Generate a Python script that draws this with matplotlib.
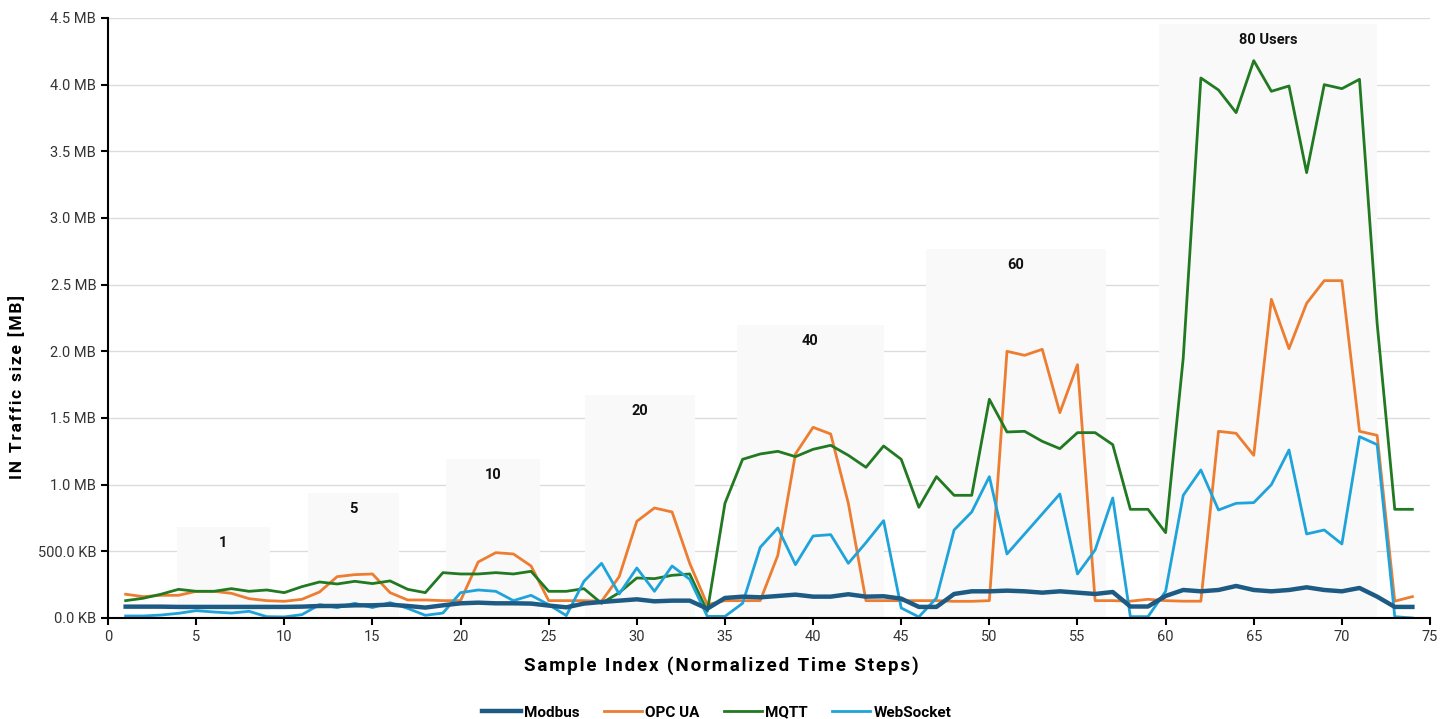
import matplotlib
matplotlib.use("Agg")
import matplotlib.pyplot as plt
from matplotlib.ticker import FuncFormatter, MultipleLocator

plt.rcParams['font.family'] = ['Roboto', 'DejaVu Sans']

sample_idx = list(range(1, 75))

modbus = [0.085, 0.085, 0.085, 0.083, 0.083, 0.083, 0.083, 0.083, 0.083, 0.083,
          0.085, 0.09, 0.09, 0.095, 0.095, 0.1, 0.09, 0.078, 0.095, 0.11,
          0.115, 0.11, 0.11, 0.108, 0.093, 0.08, 0.108, 0.12, 0.13, 0.14,
          0.125, 0.13, 0.13, 0.07, 0.15, 0.16, 0.155, 0.165, 0.175, 0.16,
          0.16, 0.178, 0.16, 0.163, 0.145, 0.083, 0.083, 0.18, 0.2, 0.2,
          0.205, 0.2, 0.19, 0.2, 0.19, 0.18, 0.195, 0.086, 0.086, 0.165,
          0.21, 0.2, 0.21, 0.24, 0.21, 0.2, 0.21, 0.23, 0.21, 0.2,
          0.225, 0.16, 0.083, 0.083]

opc_ua = [0.178, 0.16, 0.17, 0.17, 0.2, 0.2, 0.185, 0.145, 0.13, 0.125,
          0.14, 0.195, 0.31, 0.325, 0.33, 0.19, 0.135, 0.135, 0.13, 0.13,
          0.42, 0.49, 0.48, 0.39, 0.13, 0.13, 0.13, 0.125, 0.31, 0.725,
          0.825, 0.795, 0.41, 0.1, 0.13, 0.13, 0.13, 0.47, 1.23, 1.43,
          1.38, 0.86, 0.13, 0.13, 0.13, 0.13, 0.13, 0.125, 0.125, 0.13,
          2.0, 1.97, 2.015, 1.54, 1.9, 0.13, 0.13, 0.126, 0.14, 0.13,
          0.126, 0.126, 1.4, 1.385, 1.22, 2.39, 2.02, 2.36, 2.53, 2.53,
          1.4, 1.37, 0.126, 0.16]

mqtt = [0.13, 0.148, 0.178, 0.215, 0.2, 0.2, 0.22, 0.2, 0.21, 0.19,
        0.235, 0.27, 0.255, 0.275, 0.258, 0.278, 0.215, 0.19, 0.34, 0.33,
        0.33, 0.34, 0.33, 0.35, 0.2, 0.2, 0.22, 0.11, 0.19, 0.3,
        0.295, 0.32, 0.33, 0.05, 0.86, 1.19, 1.23, 1.25, 1.21, 1.265,
        1.295, 1.22, 1.13, 1.29, 1.19, 0.83, 1.06, 0.92, 0.92, 1.64,
        1.395, 1.4, 1.325, 1.27, 1.39, 1.39, 1.3, 0.815, 0.815, 0.64,
        1.95, 4.05, 3.96, 3.79, 4.18, 3.95, 3.99, 3.34, 4.0, 3.97,
        4.04, 2.21, 0.815, 0.815]

websocket = [0.015, 0.015, 0.022, 0.035, 0.055, 0.045, 0.037, 0.05, 0.01, 0.008,
             0.025, 0.1, 0.078, 0.11, 0.078, 0.115, 0.072, 0.02, 0.037, 0.19,
             0.21, 0.2, 0.13, 0.17, 0.1, 0.018, 0.275, 0.41, 0.18, 0.375,
             0.2, 0.39, 0.29, 0.012, 0.012, 0.11, 0.53, 0.675, 0.4, 0.615,
             0.625, 0.41, 0.565, 0.73, 0.075, 0.008, 0.15, 0.66, 0.795, 1.06,
             0.48, 0.63, 0.78, 0.93, 0.33, 0.51, 0.9, 0.01, 0.01, 0.2,
             0.92, 1.11, 0.81, 0.86, 0.865, 1.0, 1.26, 0.63, 0.66, 0.555,
             1.36, 1.3, 0.01, 0.0]

# user-count phases shown as shaded blocks
band_labels = ["1", "5", "10", "20", "40", "60", "80 Users"]
band_start = [3.9, 11.35, 19.15, 27.05, 35.7, 46.4, 59.6]
band_end = [9.2, 16.5, 24.5, 33.3, 44.0, 56.6, 72.0]
band_top = [0.68, 0.935, 1.195, 1.675, 2.2, 2.765, 4.455]

fig = plt.figure(figsize=(14.54, 7.19), dpi=100)
ax = fig.add_axes([0.0743, 0.1405, 0.9092, 0.8345])

widths = [e - s for s, e in zip(band_start, band_end)]
ax.bar(band_start, band_top, width=widths, align='edge', color='#f9f9f9', zorder=1)
for s, e, t, lab in zip(band_start, band_end, band_top, band_labels):
    ax.text((s + e) / 2, t - 0.12, lab, ha='center', va='center',
            fontsize=10.5, fontweight='bold', color='#111111', zorder=2)

ax.plot(sample_idx, modbus, color='#1d5b84', lw=3.2, label='Modbus', zorder=4)
ax.plot(sample_idx, opc_ua, color='#ed7d31', lw=2.0, label='OPC UA', zorder=3)
ax.plot(sample_idx, mqtt, color='#217a21', lw=2.0, label='MQTT', zorder=3)
ax.plot(sample_idx, websocket, color='#1fa3db', lw=2.0, label='WebSocket', zorder=3)

ax.set_xlim(0, 75)
ax.set_ylim(0, 4.5)
ax.xaxis.set_major_locator(MultipleLocator(5))
ax.yaxis.set_major_locator(MultipleLocator(0.5))


def fmt(v, pos):
    if v < 0.99:
        return f"{v * 1000:.1f} KB"
    return f"{v:.1f} MB"


ax.yaxis.set_major_formatter(FuncFormatter(fmt))
ax.grid(axis='y', color='#dcdcdc', lw=1.0, zorder=0)
ax.set_axisbelow(True)
for sp in ['top', 'right']:
    ax.spines[sp].set_visible(False)
for sp in ['left', 'bottom']:
    ax.spines[sp].set_linewidth(1.5)
    ax.spines[sp].set_color('black')
    ax.spines[sp].set_zorder(5)
ax.tick_params(axis='both', direction='out', length=5, width=1.5,
               labelsize=10.5, labelcolor='#333333')


def spaced(s):
    # hair spaces between letters to mimic the wide tracking
    return "\u200a".join(s)


ax.set_xlabel(spaced("Sample Index (Normalized Time Steps)"), fontsize=13.5,
              fontweight='bold')
ax.xaxis.set_label_coords(0.464, -0.064)
ax.set_ylabel(spaced("IN Traffic size [MB]"), fontsize=12.5, fontweight='bold')
ax.yaxis.set_label_coords(-0.063, 0.385)

fig.legend(loc='lower center', bbox_to_anchor=(0.493, -0.02), ncol=4, frameon=False,
           prop={'weight': 'bold', 'size': 11}, handlelength=2.5,
           handletextpad=0.2, columnspacing=1.6)

fig.savefig("out.png", dpi=100)
